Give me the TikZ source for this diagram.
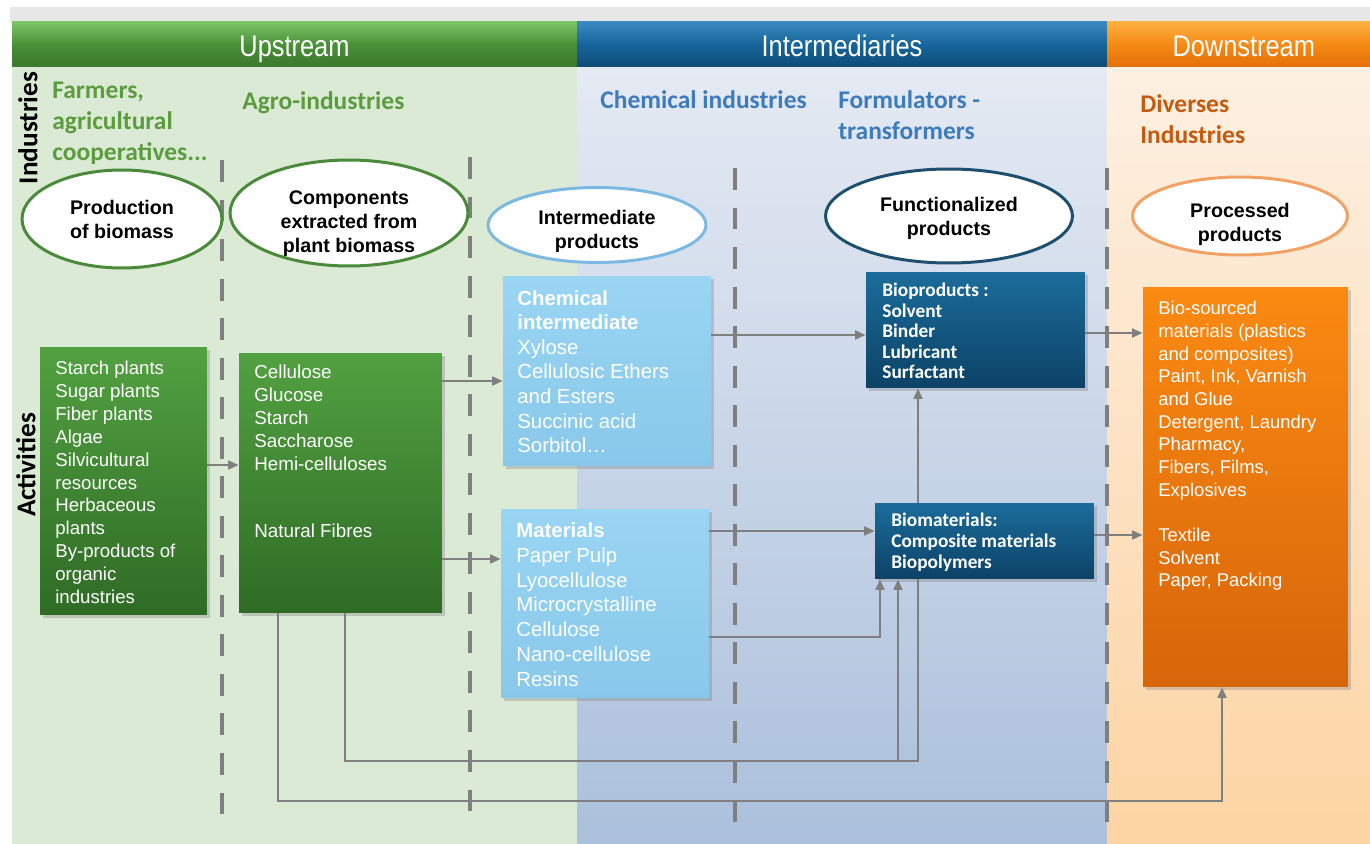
\documentclass[tikz,border=0pt]{standalone}
\usepackage{fontspec}
\setmainfont{Liberation Sans}
\newfontfamily\hdrfont[FakeStretch=0.85]{Liberation Sans}
\newfontfamily\calfont{Carlito}
\usetikzlibrary{shapes.geometric,arrows.meta,shadows}
\pgfdeclarelayer{bg}
\pgfdeclarelayer{lines}
\pgfsetlayers{bg,lines,main}
\definecolor{graybar}{HTML}{E7E7E7}
\definecolor{colgreen}{HTML}{DBEAD5}
\definecolor{bluetop}{HTML}{E5EAF3}
\definecolor{bluebot}{HTML}{ABC0DC}
\definecolor{orgtop}{HTML}{FDF0E2}
\definecolor{orgbot}{HTML}{FDD4A3}
\definecolor{hgA}{HTML}{7CC466}
\definecolor{hgB}{HTML}{4A9038}
\definecolor{hgC}{HTML}{3A792C}
\definecolor{hbA}{HTML}{3A8AC0}
\definecolor{hbB}{HTML}{16649A}
\definecolor{hbC}{HTML}{0F4C76}
\definecolor{hoA}{HTML}{FDB040}
\definecolor{hoB}{HTML}{F58A14}
\definecolor{hoC}{HTML}{E4700A}
\definecolor{lblgreen}{HTML}{5B9C3E}
\definecolor{lblblue}{HTML}{3D7BBD}
\definecolor{lblorange}{HTML}{C55A11}
\definecolor{dashgray}{HTML}{7F7F7F}
\definecolor{conngray}{HTML}{7F7F7F}
\definecolor{elgreen}{HTML}{4A8A3A}
\definecolor{ellblue}{HTML}{7CB9E2}
\definecolor{eldblue}{HTML}{1E4F6E}
\definecolor{elorange}{HTML}{F2A265}
\definecolor{gbTop}{HTML}{52A141}
\definecolor{gbBot}{HTML}{2F6B25}
\definecolor{lbTop}{HTML}{9AD5F3}
\definecolor{lbBot}{HTML}{88C8EA}
\definecolor{dbTop}{HTML}{1B6C9B}
\definecolor{dbBot}{HTML}{0C4266}
\definecolor{obTop}{HTML}{FB8A12}
\definecolor{obBot}{HTML}{D7650A}
\tikzset{
  hdr/.style={minimum height=0.9cm, inner sep=0pt, text=white,
    text height=14pt, text depth=0pt,
    font=\hdrfont\fontsize{17}{20}\selectfont},
  collbl/.style={anchor=west, inner sep=0pt, align=left,
    font=\calfont\bfseries\fontsize{14.5}{17.6}\selectfont},
  rotlbl/.style={rotate=90, inner sep=0pt,
    font=\calfont\bfseries\fontsize{15.5}{17}\selectfont},
  dashline/.style={draw=dashgray, line width=2.3pt, dash pattern=on 12.5pt off 10pt},
  ell/.style={ellipse, fill=white, line width=1.7pt, inner sep=0pt},
  elltext/.style={inner sep=0pt, align=center,
    font=\bfseries\fontsize{11.2}{13.6}\selectfont},
  boxbase/.style={rectangle, inner sep=0pt,
    drop shadow={opacity=0.35, shadow xshift=1.5pt, shadow yshift=-1.5pt}},
  gbox/.style={boxbase, top color=gbTop, bottom color=gbBot},
  lbox/.style={boxbase, top color=lbTop, bottom color=lbBot},
  dbox/.style={boxbase, top color=dbTop, bottom color=dbBot},
  obox/.style={boxbase, top color=obTop, bottom color=obBot},
  btext/.style={anchor=north west, inner sep=0pt, align=left, text=white},
  conn/.style={draw=conngray, line width=1.3pt},
  arr/.style={conn, -{Triangle[length=6pt,width=5pt]}}
}
\begin{document}
\begin{tikzpicture}[x=0.02cm,y=-0.02cm]
\useasboundingbox (0,0) rectangle (1370,844);

% ---------- backgrounds ----------
\begin{pgfonlayer}{bg}
\fill[white] (0,0) rectangle (1370,844);
\fill[graybar] (10,7) rectangle (1370,22);
\fill[colgreen] (12,22) rectangle (577,844);
\shade[top color=bluetop, bottom color=bluebot] (577,67) rectangle (1107,844);
\shade[top color=orgtop, bottom color=orgbot] (1107,67) rectangle (1370,844);
% dashed separators
\draw[dashline] (222,160) -- (222,828);
\draw[dashline] (470,157) -- (470,822);
\draw[dashline] (735,168) -- (735,832);
\draw[dashline] (1107,168) -- (1107,838);
\end{pgfonlayer}

% ---------- headers ----------
\node[hdr, minimum width=11.3cm, top color=hgA, bottom color=hgC, middle color=hgB] (hup) at (294.5,44.5) {Upstream};
\node[hdr, minimum width=10.6cm, top color=hbA, bottom color=hbC, middle color=hbB] (hint) at (842,44.5) {Intermediaries};
\node[hdr, minimum width=5.26cm, top color=hoA, bottom color=hoC, middle color=hoB] (hdown) at (1238.5,44.5) {\hspace*{6pt}Downstream};

% ---------- column labels ----------
\node[rotlbl] (lind) at (28,128) {Industries};
\node[rotlbl] (lact) at (26,465) {Activities};
\node[collbl, text=lblgreen, anchor=north west] (lfarm) at (52,82) {Farmers,\\agricultural\\cooperatives...};
\node[collbl, text=lblgreen] (lagro) at (242,103) {Agro-industries};
\node[collbl, text=lblblue] (lchem) at (600,100) {Chemical industries};
\node[collbl, text=lblblue, anchor=north west] (lform) at (838,90) {Formulators -\\transformers};
\node[collbl, text=lblorange, anchor=north west] (ldiv) at (1140,94) {Diverses\\Industries};

% ---------- ellipses ----------
\node[ell, draw=elgreen, minimum width=4cm, minimum height=1.96cm] (e1) at (122,219) {};
\node[elltext] (e1t) at (122,219.5) {Production\\of biomass};
\node[ell, draw=elgreen, minimum width=4.76cm, minimum height=2.12cm] (e2) at (349,213) {};
\node[elltext] (e2t) at (349,224) {Components\\extracted from\\plant biomass};
\node[ell, draw=ellblue, minimum width=4.36cm, minimum height=1.5cm] (e3) at (597,225) {};
\node[elltext] (e3t) at (597,231) {Intermediate\\products};
\node[ell, draw=eldblue, minimum width=4.94cm, minimum height=1.88cm] (e4) at (949,216) {};
\node[elltext] (e4t) at (949,218) {Functionalized\\products};
\node[ell, draw=elorange, minimum width=4.3cm, minimum height=1.56cm] (e5) at (1240,216) {};
\node[elltext] (e5t) at (1240,224) {Processed\\products};

% ---------- boxes ----------
\node[gbox, minimum width=3.34cm, minimum height=5.36cm] (src) at (123.5,481) {};
\node[btext, font=\fontsize{10.6}{13}\selectfont] (srct) at (55,361)
  {Starch plants\\Sugar plants\\Fiber plants\\Algae\\Silvicultural\\resources\\Herbaceous\\plants\\By-products of\\organic\\industries};

\node[gbox, minimum width=4.06cm, minimum height=5.2cm] (agro) at (340.5,483) {};
\node[btext, font=\fontsize{10.7}{13}\selectfont] (agrot) at (254,365)
  {Cellulose\\Glucose\\Starch\\Saccharose\\Hemi-celluloses\\[25pt]Natural Fibres};

\node[lbox, minimum width=4.16cm, minimum height=3.8cm] (chem) at (607,371) {};
\node[btext, font=\fontsize{11.6}{14}\selectfont] (chemt) at (517,290)
  {\textbf{Chemical}\\\textbf{intermediate}\\Xylose\\Cellulosic Ethers\\and Esters\\Succinic acid\\Sorbitol\dots};

\node[lbox, minimum width=4.16cm, minimum height=3.78cm] (mat) at (605,603.5) {};
\node[btext, font=\fontsize{11.6}{14.2}\selectfont] (matt) at (516,522)
  {\textbf{Materials}\\Paper Pulp\\Lyocellulose\\Microcrystalline\\Cellulose\\Nano-cellulose\\Resins};

\node[dbox, minimum width=4.38cm, minimum height=2.32cm] (biop) at (975.5,330) {};
\node[btext, font=\calfont\bfseries\fontsize{11}{11.6}\selectfont] (biopt) at (882,283)
  {Bioproducts :\\Solvent\\Binder\\Lubricant\\Surfactant};

\node[dbox, minimum width=4.38cm, minimum height=1.52cm] (biom) at (984.5,541) {};
\node[btext, font=\calfont\bfseries\fontsize{11}{11.9}\selectfont] (biomt) at (891,513)
  {Biomaterials:\\Composite materials\\Biopolymers};

\node[obox, minimum width=4.1cm, minimum height=8cm] (proc) at (1245.5,487) {};
\node[btext, font=\fontsize{10.5}{12.9}\selectfont] (proct) at (1158,301)
  {Bio-sourced\\materials (plastics\\and composites)\\Paint, Ink, Varnish\\and Glue\\Detergent, Laundry\\Pharmacy,\\Fibers, Films,\\Explosives\\[12.9pt]Textile\\Solvent\\Paper, Packing};

% ---------- connectors ----------
\coordinate (j1) at (898,761);
\begin{pgfonlayer}{lines}
\draw[arr] (src.east |- 0,465) -- (agro.west |- 0,465);
\draw[arr] (agro.east |- 0,381) -- (chem.west |- 0,381);
\draw[arr] (agro.east |- 0,559) -- (mat.west |- 0,559);
\draw[arr] (chem.east |- 0,335) -- (biop.west |- 0,335);
\draw[arr] (biop.east |- 0,333) -- (proc.west |- 0,333);
\draw[arr] (mat.east |- 0,531) -- (biom.west |- 0,531);
\draw[arr] (biom.east |- 0,535) -- (proc.west |- 0,535);
\draw[arr] (mat.east |- 0,637) -- (880,637) -- (biom.south -| 880,0);
\draw[arr] (agro.south -| 345,0) -- (345,761) -- (918,761) -- (biop.south -| 918,0);
\draw[arr] (j1) -- (biom.south -| j1);
\draw[arr] (agro.south -| 278,0) -- (278,801) -- (1222,801) -- (proc.south -| 1222,0);
\end{pgfonlayer}
\end{tikzpicture}
\end{document}
